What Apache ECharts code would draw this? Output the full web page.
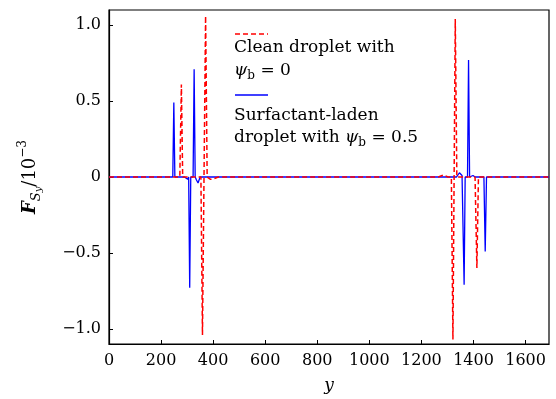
<!DOCTYPE html>
<html>
<head>
<meta charset="utf-8">
<script src="https://cdn.jsdelivr.net/npm/echarts@6/dist/echarts.min.js"></script>
<style>
  html, body { margin: 0; padding: 0; background: #fff; }
  #chart { width: 556px; height: 399px; }
</style>
</head>
<body>
<div id="chart"></div>
<script>
// clean droplet, psi_b = 0 (red dashed)
const cleanY = [0, 272, 278, 283, 353, 359, 371, 377, 390, 402, 420, 1265, 1285, 1302, 1315, 1321, 1330, 1336, 1406, 1413, 1419, 1690]
const cleanF = [0, 0, 0.61, 0, 0, -1.04, 1.06, 0, -0.015, -0.012, 0, 0, 0.013, 0, 0, -1.07, 1.04, 0, 0, -0.60, 0, 0]

// surfactant-laden droplet, psi_b = 0.5 (blue solid)
const surfY = [0, 245, 249, 253, 290, 297, 302, 306, 310, 314, 323, 327, 331, 336, 342, 350, 1335, 1346, 1356, 1360, 1364, 1368, 1377, 1381, 1385, 1390, 1398, 1406, 1440, 1445, 1450, 1690]
const surfF = [0, 0, 0.49, 0, 0, 0.01, -0.015, 0, -0.73, 0, 0, 0.71, 0, -0.02, -0.04, 0, 0, 0.028, 0.01, 0, -0.71, 0, 0, 0.77, 0, -0.013, 0.01, 0, 0, -0.49, 0, 0]

const yTicks = [-1.0, -0.5, 0, 0.5, 1.0]
const yTickLabels = ['\u22121.0', '\u22120.5', '0', '0.5', '1.0']

const serif = 'DejaVu Serif'
const toPairs = (xs, ys) => xs.map((x, i) => [x, ys[i]])

const chart = echarts.init(document.getElementById('chart'), null, { renderer: 'canvas' })

const sup = { fontFamily: serif, fontSize: 12, verticalAlign: 'top', color: '#000' }
const sub = { fontFamily: serif, fontSize: 13, fontStyle: 'italic', verticalAlign: 'bottom', color: '#000' }
const psiRich = {
  p: { fontFamily: serif, fontSize: 17, fontStyle: 'italic', lineHeight: 22, fill: '#000' },
  b: { fontFamily: serif, fontSize: 12, verticalAlign: 'bottom', fill: '#000' },
  t: { fontFamily: serif, fontSize: 17, lineHeight: 22, fill: '#000' }
}

chart.setOption({
  animation: false,
  backgroundColor: '#fff',
  grid: { left: 109, right: 7, top: 10, bottom: 55, show: true, borderColor: '#000', borderWidth: 1.2 },
  xAxis: {
    type: 'value',
    min: 0,
    max: 1690,
    interval: 200,
    name: 'y',
    nameLocation: 'middle',
    nameGap: 33,
    nameTextStyle: { fontFamily: serif, fontStyle: 'italic', fontSize: 17, color: '#000' },
    axisLine: { show: true, onZero: false, lineStyle: { color: '#000', width: 1.2 } },
    axisTick: { show: true, inside: true, length: 4, lineStyle: { color: '#000' } },
    axisLabel: { showMaxLabel: false, fontFamily: serif, fontSize: 16, color: '#000', margin: 9, formatter: (v) => String(v) },
    splitLine: { show: false }
  },
  yAxis: {
    type: 'value',
    min: -1.1,
    max: 1.1,
    name: '{F|F}{s|S}{ss|y}{n|/10}{e|\u22123}',
    nameLocation: 'middle',
    nameRotate: 90,
    nameGap: 66,
    nameTextStyle: {
      rich: {
        F: { fontFamily: serif, fontSize: 18, fontWeight: 'bold', fontStyle: 'italic', lineHeight: 26, color: '#000' },
        s: sub,
        ss: { fontFamily: serif, fontSize: 10, fontStyle: 'italic', verticalAlign: 'bottom', color: '#000' },
        n: { fontFamily: serif, fontSize: 18, lineHeight: 26, color: '#000' },
        e: sup
      }
    },
    axisLine: { show: true, onZero: false, lineStyle: { color: '#000', width: 1.2 } },
    axisTick: { show: true, inside: true, length: 4, lineStyle: { color: '#000' } },
    axisLabel: {
      showMinLabel: false,
      showMaxLabel: false,
      fontFamily: serif,
      fontSize: 16,
      color: '#000',
      margin: 8,
      formatter: (v) => {
        const i = yTicks.findIndex((t) => Math.abs(t - v) < 1e-6)
        return i < 0 ? '' : yTickLabels[i]
      }
    },
    splitLine: { show: false }
  },
  series: [
    {
      name: 'Surfactant-laden droplet with psi_b = 0.5',
      type: 'line',
      data: toPairs(surfY, surfF),
      symbol: 'none',
      lineStyle: { color: '#0000ff', width: 1.3 },
      z: 2
    },
    {
      name: 'Clean droplet with psi_b = 0',
      type: 'line',
      data: toPairs(cleanY, cleanF),
      symbol: 'none',
      lineStyle: { color: '#ff0000', width: 1.5, type: [5, 3] },
      z: 3
    }
  ],
  graphic: [
    {
      type: 'group',
      x: 234,
      y: 26,
      children: [
        { type: 'line', shape: { x1: 1, y1: 8, x2: 34, y2: 8 }, style: { stroke: '#ff0000', lineWidth: 1.5, lineDash: [5, 3] } },
        { type: 'text', x: 0, y: 22, style: { text: 'Clean droplet with', font: '17px "DejaVu Serif"', fill: '#000', verticalAlign: 'middle' } },
        { type: 'text', x: 0, y: 45, style: { text: '{p|\u03c8}{b|b}{t| = 0}', verticalAlign: 'middle', rich: psiRich } },
        { type: 'line', shape: { x1: 1, y1: 69, x2: 34, y2: 69 }, style: { stroke: '#0000ff', lineWidth: 1.3 } },
        { type: 'text', x: 0, y: 90, style: { text: 'Surfactant-laden', font: '17px "DejaVu Serif"', fill: '#000', verticalAlign: 'middle' } },
        { type: 'text', x: 0, y: 112, style: { text: '{t|droplet with }{p|\u03c8}{b|b}{t| = 0.5}', verticalAlign: 'middle', rich: psiRich } }
      ]
    }
  ]
})
</script>
</body>
</html>
